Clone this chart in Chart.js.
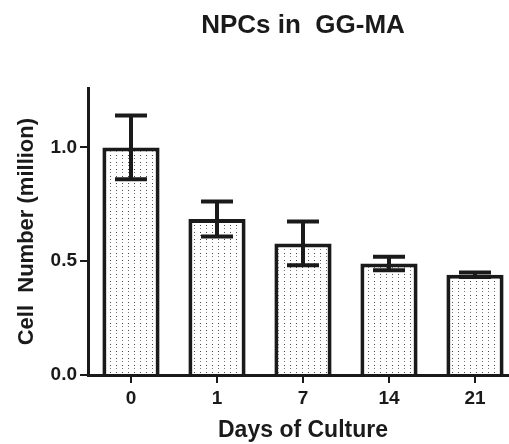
<!DOCTYPE html>
<html>
<head>
<meta charset="utf-8">
<script src="https://cdn.jsdelivr.net/npm/chart.js@4/dist/chart.umd.min.js"></script>
<style>
  html, body { margin: 0; padding: 0; background: #fff; overflow: hidden; }
  #wrap { width: 509px; height: 444px; overflow: hidden; }
</style>
</head>
<body>
<div id="wrap"><canvas id="chartCells" width="520" height="444"></canvas></div>
<script>
    // DATA
    const days = ["0", "1", "7", "14", "21"];
    const cellMillions = [1.0, 0.685, 0.578, 0.49, 0.44];
    const sdMillions = [0.14, 0.077, 0.096, 0.03, 0.01];
    const yTicks = [0, 0.5, 1.0];

    const FONT = "'Liberation Sans', Arial, sans-serif";

    // dotted fill for the bars
    const tile = document.createElement("canvas");
    tile.width = 6;
    tile.height = 7;
    const tctx = tile.getContext("2d");
    tctx.fillStyle = "#fff";
    tctx.fillRect(0, 0, 6, 7);
    tctx.fillStyle = "#444";
    tctx.fillRect(2, 1, 1, 1);
    tctx.fillStyle = "#7a7a7a";
    tctx.fillRect(2, 4, 1, 1);
    const dots = tctx.createPattern(tile, "repeat");

    // error bars drawn through the chart scales
    const errorBars = {
      id: "errorBars",
      afterDatasetsDraw(chart) {
        const ctx = chart.ctx;
        const y = chart.scales.y;
        const meta = chart.getDatasetMeta(0);
        ctx.save();
        ctx.strokeStyle = "#1a1a1a";
        ctx.lineWidth = 4;
        meta.data.forEach((bar, i) => {
          const hi = y.getPixelForValue(cellMillions[i] + sdMillions[i]);
          const lo = y.getPixelForValue(cellMillions[i] - sdMillions[i]);
          const x = bar.x;
          ctx.beginPath();
          ctx.moveTo(x, hi);
          ctx.lineTo(x, lo);
          ctx.moveTo(x - 16, hi);
          ctx.lineTo(x + 16, hi);
          ctx.moveTo(x - 16, lo);
          ctx.lineTo(x + 16, lo);
          ctx.stroke();
        });
        ctx.restore();
      }
    };

    new Chart(document.getElementById("chartCells"), {
      type: "bar",
      data: {
        labels: days,
        datasets: [{
          data: cellMillions,
          backgroundColor: dots,
          borderColor: "#1a1a1a",
          borderWidth: 4,
          categoryPercentage: 1,
          barPercentage: 0.665
        }]
      },
      options: {
        responsive: false,
        animation: false,
        layout: { padding: { left: 0, right: 2, top: 0, bottom: 0 } },
        plugins: {
          legend: { display: false },
          tooltip: { enabled: false },
          title: {
            display: true,
            text: "NPCs in  GG-MA",
            fullSize: false,
            color: "#1a1a1a",
            font: { family: FONT, size: 26, weight: "bold" },
            padding: { top: 10, bottom: 47 }
          }
        },
        scales: {
          x: {
            afterFit: s => { s.height = 69; },
            border: { color: "#1a1a1a", width: 3 },
            grid: { display: true, drawOnChartArea: false, offset: false, color: "#1a1a1a", lineWidth: 2, tickLength: 8 },
            ticks: { color: "#1a1a1a", padding: 4, font: { family: FONT, size: 19, weight: "bold" } },
            title: {
              display: true,
              text: "Days of Culture",
              color: "#1a1a1a",
              font: { family: FONT, size: 23, weight: "bold" },
              padding: { top: 0, bottom: 0 }
            }
          },
          y: {
            min: 0,
            max: 1.26,
            afterFit: s => { s.width = 88; },
            afterBuildTicks: s => { s.ticks = yTicks.map(v => ({ value: v })); },
            border: { color: "#1a1a1a", width: 3 },
            grid: { display: true, drawOnChartArea: false, color: "#1a1a1a", lineWidth: 2, tickLength: 8 },
            ticks: {
              color: "#1a1a1a",
              padding: 3,
              font: { family: FONT, size: 19, weight: "bold" },
              callback: v => Number(v).toFixed(1)
            },
            title: {
              display: true,
              text: "Cell  Number (million)",
              color: "#1a1a1a",
              font: { family: FONT, size: 22, weight: "bold" },
              padding: { top: 14, bottom: 0 }
            }
          }
        }
      },
      plugins: [errorBars]
    });
</script>
</body>
</html>
